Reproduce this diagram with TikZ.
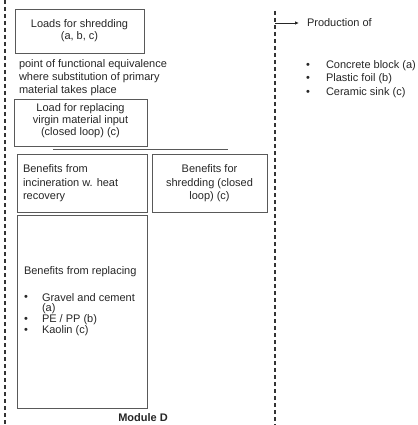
\documentclass[tikz,border=0pt]{standalone}
\usepackage{fontspec}
\setmainfont{Liberation Sans}
\usetikzlibrary{arrows.meta}
\begin{document}
\begin{tikzpicture}[x=1pt,y=-1pt,
  font=\fontsize{11}{13}\selectfont,
  box/.style={draw=black!65, line width=0.8pt, inner sep=0pt, outer sep=0pt},
  txt/.style={inner sep=0pt, outer sep=0pt, text=black!85},
  divider/.style={draw=black!80, line width=1.1pt, dash pattern=on 4pt off 3pt},
  bul/.style={inner sep=0pt, outer sep=0pt, text=black!85}]
\useasboundingbox (0,0) rectangle (417,425);

% dashed dividers
\coordinate (ltop) at (5,0);
\coordinate (lbot) at (5,425);
\draw[divider] (ltop) -- (lbot);
\coordinate (rtop) at (275,11);
\coordinate (rbot) at (275,425);
\draw[divider] (rtop) -- (rbot);

% boxes
\node[box, minimum width=129pt, minimum height=44pt] (b1) at (79.5,31) {};
\node[box, minimum width=133pt, minimum height=47pt] (b2) at (80.5,122.5) {};
\node[box, minimum width=130pt, minimum height=58pt] (b3) at (82,183) {};
\node[box, minimum width=115pt, minimum height=58pt] (b4) at (209.5,183) {};
\node[box, minimum width=130pt, minimum height=193pt] (b5) at (82,311.5) {};

% box texts
\node[txt, align=center, font=\fontsize{11}{12}\selectfont] (t1) at (79.5,31) {Loads for shredding\\(a, b, c)};
\node[txt, align=left, anchor=west, font=\fontsize{11}{13}\selectfont] (tpf) at (19,77.5) {point of functional equivalence\\where substitution of primary\\material takes place};
\node[txt, align=center, font=\fontsize{11}{11.8}\selectfont] (t2) at (80.5,120.5) {Load for replacing\\virgin material input\\(closed loop) (c)};
\node[txt, align=left, anchor=west, font=\fontsize{11}{13.5}\selectfont] (t3) at (23,183.5) {Benefits from\\incineration w. heat\\recovery};
\node[txt, align=center, font=\fontsize{11}{13.5}\selectfont] (t4) at (209.5,183.5) {Benefits for\\shredding (closed\\loop) (c)};
\node[txt, anchor=west] (t5) at (24,272) {Benefits from replacing};
\node[bul, anchor=center] (bu1) at (26,298) {•};
\node[txt, anchor=west] (l1) at (42,298) {Gravel and cement};
\node[txt, anchor=west] (l1b) at (42,309) {(a)};
\node[bul, anchor=center] (bu2) at (26,319.5) {•};
\node[txt, anchor=west] (l2) at (42,319.5) {PE / PP (b)};
\node[bul, anchor=center] (bu3) at (26,330.5) {•};
\node[txt, anchor=west] (l3) at (42,330.5) {Kaolin (c)};

\node[txt, font=\fontsize{11}{13}\selectfont\bfseries] (modd) at (143,418) {Module D};

% horizontal line
\coordinate (hl1) at (53,149);
\coordinate (hl2) at (228,149);
\draw[black!65, line width=0.8pt] (hl1) -- (hl2);

% right side
\coordinate (arrS) at (275,23);
\node[txt, anchor=west] (prod) at (307,23) {Production of};
\draw[black!85, line width=0.8pt, -{Latex[length=4pt,width=3.5pt]}] (arrS) -- ([xshift=-8pt]prod.west);
\node[bul] (rb1) at (308,65.5) {•};
\node[txt, anchor=west] (r1) at (326,65.5) {Concrete block (a)};
\node[bul] (rb2) at (308,79) {•};
\node[txt, anchor=west] (r2) at (326,79) {Plastic foil (b)};
\node[bul] (rb3) at (308,92.5) {•};
\node[txt, anchor=west] (r3) at (326,92.5) {Ceramic sink (c)};
\end{tikzpicture}
\end{document}
